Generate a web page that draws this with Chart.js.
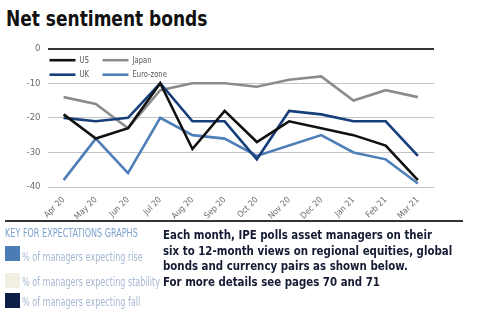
<!DOCTYPE html>
<html>
<head>
<meta charset="utf-8">
<script src="https://cdn.jsdelivr.net/npm/chart.js@4/dist/chart.umd.min.js"></script>
<style>
  body { margin:0; width:480px; height:325px; background:#fff; position:relative; overflow:hidden; font-family:"DejaVu Sans Condensed","DejaVu Sans",sans-serif; }
  #title { position:absolute; left:6px; top:6px; font-weight:bold; font-size:22px; color:#111; white-space:nowrap; transform:scaleX(0.86); transform-origin:left top; }
  #wrap { position:absolute; left:0; top:36px; width:440px; height:186px; }
  #rule { position:absolute; left:5px; top:220px; width:458px; height:2px; background:#333; }
  .k { position:absolute; left:5px; white-space:nowrap; transform:scaleX(0.78); transform-origin:left center; font-size:11.5px; line-height:14px; }
  .kh { color:#7ea3cf; }
  .kl { color:#a7b8d2; left:22px; }
  .sw { position:absolute; left:5px; width:15px; height:15px; }
  #note { position:absolute; left:163px; top:227px; font-weight:bold; font-size:13px; line-height:15.6px; color:#141b33; white-space:nowrap; transform:scaleX(0.875); transform-origin:left top; }
</style>
</head>
<body>
<div id="title">Net sentiment bonds</div>
<div id="wrap"><canvas id="c"></canvas></div>
<div id="rule"></div>
<div class="k kh" style="top:226px">KEY FOR EXPECTATIONS GRAPHS</div>
<div class="sw" style="top:246px;background:#4a7cb6"></div>
<div class="k kl" style="top:250px">% of managers expecting rise</div>
<div class="sw" style="top:273px;background:#f1eee2"></div>
<div class="k kl" style="top:275px">% of managers expecting stability</div>
<div class="sw" style="top:293px;background:#0c1f47"></div>
<div class="k kl" style="top:295px">% of managers expecting fall</div>
<div id="note">Each month, IPE polls asset managers on their<br>six to 12-month views on regional equities, global<br>bonds and currency pairs as shown below.<br>For more details see pages 70 and 71</div>
<script>
const months = ['Apr 20','May 20','Jun 20','Jul 20','Aug 20','Sep 20','Oct 20','Nov 20','Dec 20','Jan 21','Feb 21','Mar 21'];
const usVals    = [-19, -26, -23, -10, -29, -18, -27, -21, -23, -25, -28, -38];
const ukVals    = [-20, -21, -20, -10, -21, -21, -32, -18, -19, -21, -21, -31];
const japanVals = [-14, -16, -23, -12, -10, -10, -11, -9, -8, -15, -12, -14];
const euroVals  = [-38, -26, -36, -20, -25, -26, -31, -28, -25, -30, -32, -39];
const yTicks = [0, -10, -20, -30, -40];

const colors = { US:'#111111', UK:'#173f7c', Japan:'#8c8c8c', 'Euro-zone':'#4f7fb8' };
const fontFam = '"DejaVu Sans Condensed","DejaVu Sans",sans-serif';

function ds(label, data) {
    return { label, data, borderColor: colors[label], backgroundColor: colors[label], borderWidth: 2.6, pointRadius: 0, tension: 0, fill: false };
}

// legend drawn inside the plot, 2 x 2
const insideLegend = {
    id: 'insideLegend',
    afterDatasetsDraw(chart) {
        const ctx = chart.ctx, a = chart.chartArea;
        const items = [['US',0,0],['Japan',1,0],['UK',0,1],['Euro-zone',1,1]];
        ctx.save();
        ctx.font = '9.5px ' + fontFam;
        ctx.textBaseline = 'middle';
        items.forEach(([name, col, row]) => {
            const x = a.left + 2 + col * 53;
            const y = a.top + 11.5 + row * 14.5;
            ctx.strokeStyle = colors[name];
            ctx.lineWidth = 2.6;
            ctx.beginPath(); ctx.moveTo(x, y); ctx.lineTo(x + 26, y); ctx.stroke();
            ctx.fillStyle = '#555';
            ctx.save();
            ctx.translate(x + 30, y);
            ctx.scale(0.8, 1);
            ctx.fillText(name, 0, 0);
            ctx.restore();
        });
        ctx.restore();
    }
};

new Chart(document.getElementById('c'), {
    type: 'line',
    data: {
        labels: months,
        datasets: [ds('US', usVals), ds('UK', ukVals), ds('Japan', japanVals), ds('Euro-zone', euroVals)]
    },
    options: {
        responsive: true,
        maintainAspectRatio: false,
        animation: false,
        layout: { padding: { top: 12, right: 6 } },
        plugins: { legend: { display: false }, tooltip: { enabled: false } },
        scales: {
            x: {
                offset: true,
                grid: { display: false },
                border: { display: false },
                ticks: { color: '#6d6d6d', font: { family: fontFam, size: 8.5 }, minRotation: 45, maxRotation: 45, padding: 0 },
                afterFit: s => { s.height = 35; }
            },
            y: {
                min: -40, max: 0,
                afterBuildTicks: s => { s.ticks = yTicks.map(v => ({ value: v })); },
                grid: {
                    drawTicks: false,
                    color: c => c.tick && c.tick.value === 0 ? '#333' : '#c4c4c4',
                    lineWidth: c => c.tick && c.tick.value === 0 ? 2 : 1
                },
                border: { display: false },
                ticks: { color: '#6d6d6d', font: { family: fontFam, size: 9.5 }, padding: 7 },
                afterFit: s => { s.width = 47.5; }
            }
        }
    },
    plugins: [insideLegend]
});
</script>
</body>
</html>
